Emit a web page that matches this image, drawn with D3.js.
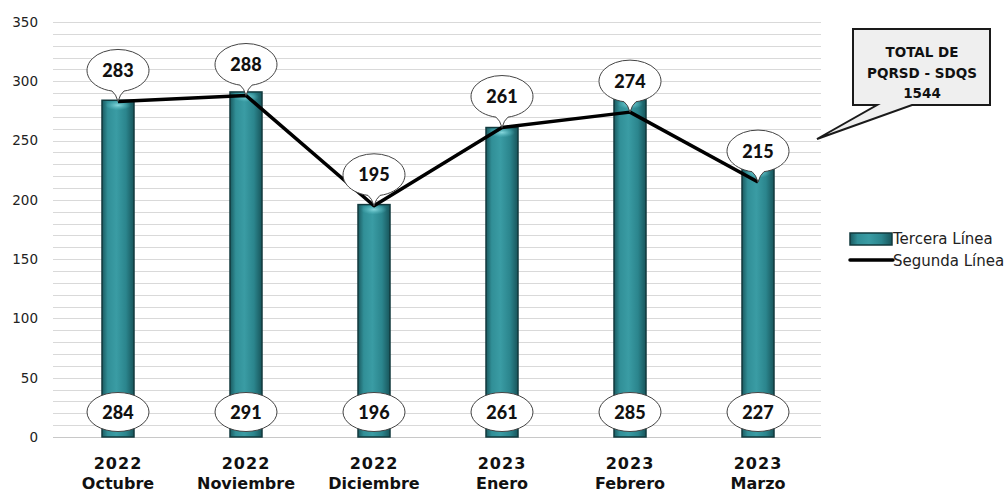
<!DOCTYPE html>
<html>
<head>
<meta charset="utf-8">
<script src="https://cdn.jsdelivr.net/npm/d3@7"></script>
<style>
  html, body { margin: 0; padding: 0; background: #fff; }
  svg { display: block; }
</style>
</head>
<body>
<svg id="chart" width="1008" height="494"></svg>
<script>
// Monthly PQRSD counts, Oct 2022 – Mar 2023
const years = ["2022", "2022", "2022", "2023", "2023", "2023"];
const months = ["Octubre", "Noviembre", "Diciembre", "Enero", "Febrero", "Marzo"];
const terceraLinea = [284, 291, 196, 261, 285, 227];   // bars
const segundaLinea = [283, 288, 195, 261, 274, 215];   // line
const yTicks = [0, 50, 100, 150, 200, 250, 300, 350];
const seriesNames = ["Tercera Línea", "Segunda Línea"];

const keys = months.map((m, i) => years[i] + " " + m);
const total = d3.sum(terceraLinea);

const svg = d3.select("#chart");

const x = d3.scaleBand().domain(keys).range([54, 822])
  .paddingInner(0.75).paddingOuter(0.375);
const y = d3.scaleLinear().domain([0, 350]).range([437, 22]);
const cx = k => x(k) + x.bandwidth() / 2;

// gradients for the cylinder-like bars
const defs = svg.append("defs");
const g = defs.append("linearGradient").attr("id", "barGrad")
  .attr("x1", "0").attr("x2", "1").attr("y1", "0").attr("y2", "0");
[["0%", "#1a5a60"], ["18%", "#318f97"], ["45%", "#3a9ca4"], ["75%", "#2b858d"], ["100%", "#18555b"]]
  .forEach(([o, c]) => g.append("stop").attr("offset", o).attr("stop-color", c));
const cap = defs.append("radialGradient").attr("id", "capGrad");
cap.append("stop").attr("offset", "0%").attr("stop-color", "#8fdde2").attr("stop-opacity", 0.9);
cap.append("stop").attr("offset", "100%").attr("stop-color", "#5cc0c7").attr("stop-opacity", 0);

// horizontal grid every 10 units
const grid = svg.append("g");
grid.selectAll("line").data(d3.range(10, 351, 10)).join("line")
  .attr("x1", 53).attr("x2", 821)
  .attr("y1", d => Math.round(y(d)) + 0.5).attr("y2", d => Math.round(y(d)) + 0.5)
  .attr("stroke", "#d9d9d9").attr("stroke-width", 1);
grid.append("line").attr("x1", 53).attr("x2", 821)
  .attr("y1", Math.round(y(0)) + 0.5).attr("y2", Math.round(y(0)) + 0.5)
  .attr("stroke", "#c8c8c8");

// y axis labels
const yAxis = svg.append("g").attr("transform", "translate(38,0)")
  .call(d3.axisLeft(y).tickValues(yTicks).tickSize(0).tickPadding(0));
yAxis.select(".domain").remove();
yAxis.selectAll("text")
  .attr("font-family", "DejaVu Sans, Verdana, sans-serif")
  .attr("font-size", 13.5).attr("fill", "#222");

// bars
const bars = svg.append("g");
bars.selectAll("rect").data(terceraLinea).join("rect")
  .attr("x", (d, i) => x(keys[i]))
  .attr("y", d => y(d))
  .attr("width", x.bandwidth())
  .attr("height", d => y(0) - y(d))
  .attr("fill", "url(#barGrad)")
  .attr("stroke", "#123a3e").attr("stroke-width", 1.5);
bars.selectAll("ellipse").data(terceraLinea).join("ellipse")
  .attr("cx", (d, i) => cx(keys[i]))
  .attr("cy", d => y(d) + 5)
  .attr("rx", x.bandwidth() / 2 - 3).attr("ry", 5)
  .attr("fill", "url(#capGrad)");

// line series
const line = d3.line().x((d, i) => cx(keys[i])).y(d => y(d));
svg.append("path").datum(segundaLinea)
  .attr("d", line).attr("fill", "none")
  .attr("stroke", "#000").attr("stroke-width", 3.5)
  .attr("stroke-linejoin", "round");

// speech-bubble labels for the line values
const rx = 31, ry = 21, lift = 31;
function bubblePath(px, py) {
  const ey = py - lift;
  const bx = 6;
  const by = ey + ry * Math.sqrt(1 - (bx * bx) / (rx * rx));
  return `M${px - bx},${by} A${rx},${ry} 0 1 1 ${px + bx},${by}` +
         ` Q${px + 2},${by + 3} ${px},${py} Q${px - 2},${by + 3} ${px - bx},${by} Z`;
}
const lineLabels = svg.append("g");
segundaLinea.forEach((v, i) => {
  const px = cx(keys[i]), py = y(v);
  lineLabels.append("path").attr("d", bubblePath(px, py))
    .attr("fill", "#fff").attr("stroke", "#444").attr("stroke-width", 1);
  lineLabels.append("text").attr("x", px).attr("y", py - lift + 6.5)
    .attr("text-anchor", "middle")
    .attr("font-family", "Lato, sans-serif").attr("font-weight", 900)
    .attr("font-size", 18).attr("fill", "#111").text(v);
});

// oval labels at the base of each bar
const barLabels = svg.append("g");
terceraLinea.forEach((v, i) => {
  const px = cx(keys[i]);
  barLabels.append("ellipse").attr("cx", px).attr("cy", 412)
    .attr("rx", 31).attr("ry", 19.5)
    .attr("fill", "#fff").attr("stroke", "#444").attr("stroke-width", 1);
  barLabels.append("text").attr("x", px).attr("y", 418.5)
    .attr("text-anchor", "middle")
    .attr("font-family", "Lato, sans-serif").attr("font-weight", 900)
    .attr("font-size", 18).attr("fill", "#111").text(v);
});

// category labels: year over month
const xl = svg.append("g")
  .attr("font-family", "DejaVu Sans, Verdana, sans-serif")
  .attr("font-weight", "bold").attr("fill", "#111").attr("text-anchor", "middle");
keys.forEach((k, i) => {
  xl.append("text").attr("x", cx(k)).attr("y", 469)
    .attr("font-size", 16).attr("letter-spacing", 1).text(years[i]);
  xl.append("text").attr("x", cx(k)).attr("y", 489)
    .attr("font-size", 16).text(months[i]);
});

// total callout
svg.append("path")
  .attr("d", "M853,29 H990 V105 H912 L817,139 L877,105 H853 Z")
  .attr("fill", "#efefef").attr("stroke", "#1a1a1a").attr("stroke-width", 2)
  .attr("stroke-linejoin", "miter");
const ct = svg.append("g")
  .attr("font-family", "DejaVu Sans, Verdana, sans-serif")
  .attr("font-weight", "bold").attr("font-size", 13.5)
  .attr("fill", "#111").attr("text-anchor", "middle");
["TOTAL DE", "PQRSD - SDQS", String(total)].forEach((t, i) => {
  ct.append("text").attr("x", 922).attr("y", 57 + i * 20.5).text(t);
});

// legend
const lg = svg.append("g")
  .attr("font-family", "DejaVu Sans, Verdana, sans-serif")
  .attr("font-size", 15).attr("fill", "#222");
lg.append("rect").attr("x", 850).attr("y", 233).attr("width", 42).attr("height", 12)
  .attr("fill", "url(#barGrad)").attr("stroke", "#123a3e").attr("stroke-width", 1.5);
lg.append("text").attr("x", 893).attr("y", 244).text(seriesNames[0]);
lg.append("line").attr("x1", 850).attr("x2", 893).attr("y1", 260).attr("y2", 260)
  .attr("stroke", "#000").attr("stroke-width", 3.5).attr("stroke-linecap", "round");
lg.append("text").attr("x", 893).attr("y", 265.5).text(seriesNames[1]);
</script>
</body>
</html>
